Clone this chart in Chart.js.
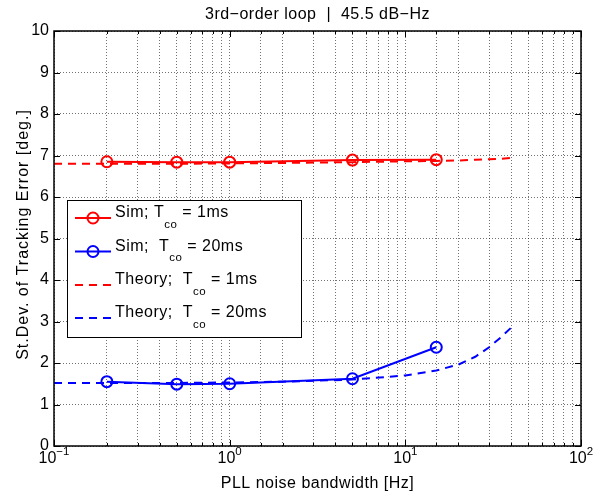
<!DOCTYPE html>
<html><head><meta charset="utf-8">
<script src="https://cdn.jsdelivr.net/npm/chart.js@4.4.0/dist/chart.umd.min.js"></script>
<style>html,body{margin:0;padding:0;background:#fff;}#wrap{width:594px;height:494px;}</style>
</head><body><div id="wrap"><canvas id="c" width="594" height="494"></canvas></div>
<script>
// ---- data ----
const simBandwidth = [0.2, 0.5, 1, 5, 15];
const simErr1ms = [6.85, 6.84, 6.84, 6.89, 6.90];
const simErr20ms = [1.55, 1.49, 1.50, 1.62, 2.38];
const theoryBandwidth = [0.1, 0.2, 0.5, 1, 2, 5, 10, 15, 20, 25, 30, 35, 40];
const theoryErr1ms = [6.80, 6.80, 6.80, 6.81, 6.82, 6.84, 6.86, 6.87, 6.88, 6.90, 6.91, 6.92, 6.94];
const theoryErr20ms = [1.52, 1.52, 1.52, 1.53, 1.55, 1.60, 1.70, 1.82, 1.96, 2.15, 2.38, 2.62, 2.85];
const xDecades = [0.1, 1, 10, 100];
const xExponents = ['\u22121', '0', '1', '2'];
const titleText = '3rd\u2212order loop  |  45.5 dB\u2212Hz';
const xLabelText = 'PLL noise bandwidth [Hz]';
const yLabelText = 'St.Dev. of Tracking Error [deg.]';
const legendItems = [
  {pre: 'Sim; T', sub: 'co', post: ' = 1ms', color: '#ff0000', dashed: false},
  {pre: 'Sim;  T', sub: 'co', post: ' = 20ms', color: '#0000ff', dashed: false},
  {pre: 'Theory;  T', sub: 'co', post: ' = 1ms', color: '#ff0000', dashed: true},
  {pre: 'Theory;  T', sub: 'co', post: ' = 20ms', color: '#0000ff', dashed: true}
];

const FONT = '"Liberation Sans", Arial, sans-serif';
const pts = (xs, ys) => xs.map((x, i) => ({x: x, y: ys[i]}));
const DASH = [8, 6];
const LS = '0.5px';

const decor = {
  id: 'decor',
  afterDraw(chart) {
    const ctx = chart.ctx, a = chart.chartArea;
    const xs = chart.scales.x, ys = chart.scales.y;
    ctx.save();
    // axes box
    ctx.strokeStyle = '#000';
    ctx.lineWidth = 1.5;
    ctx.strokeRect(a.left, a.top, a.right - a.left, a.bottom - a.top);
    // tick marks (inward)
    ctx.lineWidth = 1;
    ctx.beginPath();
    xs.ticks.forEach(t => {
      const lv = Math.log10(t.value);
      const major = Math.abs(lv - Math.round(lv)) < 1e-6;
      const len = major ? 6 : 3;
      const px = Math.round(xs.getPixelForValue(t.value)) + 0.5;
      ctx.moveTo(px, a.bottom); ctx.lineTo(px, a.bottom - len);
      ctx.moveTo(px, a.top); ctx.lineTo(px, a.top + len);
    });
    ys.ticks.forEach(t => {
      const py = Math.round(ys.getPixelForValue(t.value)) + 0.5;
      ctx.moveTo(a.left, py); ctx.lineTo(a.left + 6, py);
      ctx.moveTo(a.right, py); ctx.lineTo(a.right - 6, py);
    });
    ctx.stroke();

    ctx.fillStyle = '#000';
    // x tick labels 10^n
    xDecades.forEach((v, i) => {
      const px = xs.getPixelForValue(v);
      ctx.font = '16px ' + FONT;
      const w1 = ctx.measureText('10').width;
      ctx.font = '11.5px ' + FONT;
      const w2 = ctx.measureText(xExponents[i]).width;
      const x0 = px - (w1 + w2) / 2;
      ctx.textAlign = 'left'; ctx.textBaseline = 'alphabetic';
      ctx.font = '16px ' + FONT;
      ctx.fillText('10', x0, 463);
      ctx.font = '11.5px ' + FONT;
      ctx.fillText(xExponents[i], x0 + w1, 455);
    });
    ctx.letterSpacing = LS;
    // title
    ctx.font = '16px ' + FONT;
    ctx.textAlign = 'center';
    ctx.fillText(titleText, (a.left + a.right) / 2, 18.5);
    // x label
    ctx.fillText(xLabelText, (a.left + a.right) / 2, 488);
    // y label
    ctx.save();
    ctx.translate(27.5, (a.top + a.bottom) / 2 - 4);
    ctx.rotate(-Math.PI / 2);
    ctx.letterSpacing = '1px';
    ctx.fillText(yLabelText, 0, 0);
    ctx.restore();

    // legend
    const lx = 67, ly = 200, lw = 234, lh = 137;
    ctx.fillStyle = '#fff';
    ctx.fillRect(lx, ly, lw, lh);
    ctx.strokeStyle = '#000';
    ctx.lineWidth = 1;
    ctx.strokeRect(lx + 0.5, ly + 0.5, lw, lh);
    const rowY = [218, 251.5, 285, 318];
    legendItems.forEach((it, i) => {
      const y = rowY[i];
      ctx.strokeStyle = it.color;
      ctx.lineWidth = 2;
      ctx.setLineDash(it.dashed ? DASH : []);
      ctx.beginPath(); ctx.moveTo(75, y); ctx.lineTo(111, y); ctx.stroke();
      ctx.setLineDash([]);
      if (!it.dashed) {
        ctx.beginPath(); ctx.arc(93, y, 5.5, 0, Math.PI * 2); ctx.stroke();
      }
      ctx.fillStyle = '#000';
      ctx.textAlign = 'left';
      ctx.font = '16px ' + FONT;
      let x = 115;
      ctx.fillText(it.pre, x, y - 1);
      x += ctx.measureText(it.pre).width;
      ctx.font = '11.5px ' + FONT;
      ctx.fillText(it.sub, x, y + 9.5);
      x += ctx.measureText(it.sub).width;
      ctx.font = '16px ' + FONT;
      ctx.fillText(it.post, x, y - 1);
    });
    ctx.restore();
  }
};

new Chart(document.getElementById('c'), {
  type: 'line',
  data: {
    datasets: [
      {data: pts(theoryBandwidth, theoryErr1ms), borderColor: '#ff0000', borderWidth: 2, borderDash: DASH, pointRadius: 0, fill: false},
      {data: pts(theoryBandwidth, theoryErr20ms), borderColor: '#0000ff', borderWidth: 2, borderDash: DASH, pointRadius: 0, fill: false},
      {data: pts(simBandwidth, simErr1ms), borderColor: '#ff0000', borderWidth: 2, pointRadius: 5.5, pointBorderWidth: 2, pointBorderColor: '#ff0000', pointBackgroundColor: 'rgba(0,0,0,0)', fill: false},
      {data: pts(simBandwidth, simErr20ms), borderColor: '#0000ff', borderWidth: 2, pointRadius: 5.5, pointBorderWidth: 2, pointBorderColor: '#0000ff', pointBackgroundColor: 'rgba(0,0,0,0)', fill: false}
    ]
  },
  options: {
    responsive: false, animation: false, devicePixelRatio: 1,
    layout: {padding: {top: 31, right: 13, left: 0, bottom: 0}},
    plugins: {legend: {display: false}, title: {display: false}, tooltip: {enabled: false}},
    elements: {line: {tension: 0}},
    scales: {
      x: {
        type: 'logarithmic', min: 0.1, max: 100,
        ticks: {display: false},
        grid: {color: 'rgba(0,0,0,0.55)', lineWidth: 1, drawTicks: false},
        border: {display: false, dash: [1, 2]},
        afterFit: s => { s.height = 48; }
      },
      y: {
        type: 'linear', min: 0, max: 10,
        ticks: {stepSize: 1, color: '#000', padding: 5, font: {family: FONT, size: 16}},
        grid: {color: 'rgba(0,0,0,0.55)', lineWidth: 1, drawTicks: false},
        border: {display: false, dash: [1, 2]},
        afterFit: s => { s.width = 54; }
      }
    }
  },
  plugins: [decor]
});
</script>
</body></html>
